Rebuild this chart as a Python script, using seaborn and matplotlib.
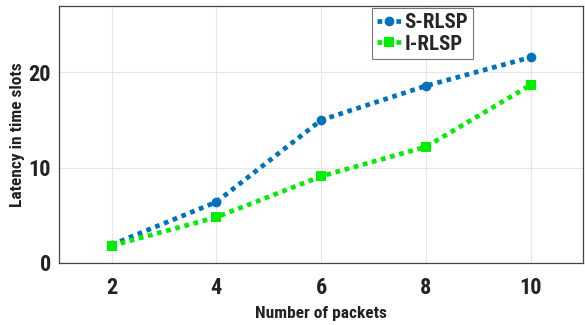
import matplotlib
matplotlib.use("Agg")
import matplotlib.pyplot as plt
from matplotlib import font_manager
import seaborn as sns
import pandas as pd

packets = [2, 4, 6, 8, 10]
s_rlsp = [1.9, 6.4, 15.0, 18.6, 21.6]
i_rlsp = [1.8, 4.8, 9.1, 12.2, 18.7]
series_names = ["S-RLSP", "I-RLSP"]
x_ticks = [2, 4, 6, 8, 10]
y_ticks = [0, 10, 20]

df = pd.DataFrame({
    "packets": packets * 2,
    "latency": s_rlsp + i_rlsp,
    "series": [series_names[0]] * len(packets) + [series_names[1]] * len(packets),
})

sns.set_style("white")
names = {f.name for f in font_manager.fontManager.ttflist}
fam = ["Liberation Sans Narrow"] if "Liberation Sans Narrow" in names else ["Roboto Condensed", "Liberation Sans"]
plt.rcParams["font.family"] = fam + ["DejaVu Sans"]

fig = plt.figure(figsize=(5.85, 3.25), dpi=100)
ax = fig.add_axes([0.101, 0.191, 0.896, 0.791])

palette = {"S-RLSP": "#0072BD", "I-RLSP": "#00EE00"}
markers = {"S-RLSP": "o", "I-RLSP": "s"}
sns.lineplot(data=df, x="packets", y="latency", hue="series", style="series",
             markers=markers, dashes=False, palette=palette, ax=ax,
             linewidth=3.4, markersize=7, markeredgewidth=0, legend=True)
for line in ax.lines:
    line.set_linestyle((0, (1, 1)))

ax.set_xlim(1, 11)
ax.set_ylim(0, 27)
ax.set_xticks(x_ticks)
ax.set_yticks(y_ticks)
ax.grid(True, color="#e6e6e6", linewidth=0.8)
ax.tick_params(axis="both", direction="in", length=4, labelsize=16, color="#333333")
for lbl in ax.get_xticklabels() + ax.get_yticklabels():
    lbl.set_fontweight("bold")
    lbl.set_color("#222222")
ax.tick_params(axis="x", pad=10)
ax.tick_params(axis="y", pad=6)
ax.set_xlabel("Number of packets", fontsize=12.5, fontweight="bold", color="#222222", labelpad=5)
ax.set_ylabel("Latency in time slots", fontsize=12.5, fontweight="bold", color="#222222", labelpad=2)
for sp in ax.spines.values():
    sp.set_color("#444444")
    sp.set_linewidth(0.9)

handles, labels = ax.get_legend_handles_labels()
leg = ax.legend(handles, labels, loc="upper left", bbox_to_anchor=(0.597, 0.992),
                frameon=True, fancybox=False, edgecolor="#555555",
                prop={"weight": "bold", "size": 15}, handlelength=1.15,
                handletextpad=0.15, borderpad=0.25, labelspacing=0.12, borderaxespad=0)
leg.get_frame().set_linewidth(0.8)
for h in leg.get_lines():
    h.set_linestyle((0, (1, 1)))
    h.set_linewidth(3.4)

fig.savefig("out.png", dpi=100)
